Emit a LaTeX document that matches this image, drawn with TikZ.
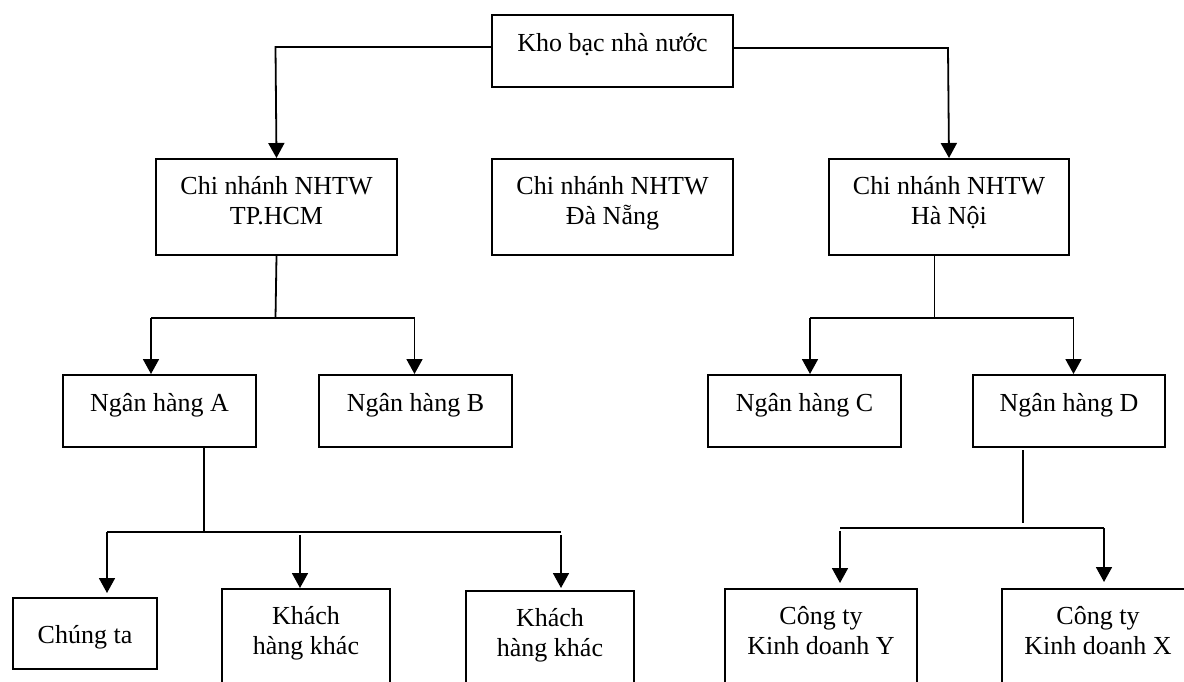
\documentclass[tikz,border=0pt]{standalone}
\usepackage{fontspec}
\setmainfont{Liberation Serif}
\usetikzlibrary{arrows.meta}
\newcommand\twolines[2]{\begin{tabular}[t]{@{}c@{}}#1\\#2\end{tabular}}
\begin{document}
\begin{tikzpicture}[x=1pt,y=-1pt,
  box/.style={draw, line width=2pt, inner sep=0pt, anchor=north west,
    font=\fontsize{26}{30}\selectfont},
  conn/.style={line width=1.8pt},
  arr/.style={conn, -{Triangle[length=15pt,width=16pt]}},
]
\useasboundingbox (0,0) rectangle (1184,681);
\clip (0,0) rectangle (1184,681);

% level 0
\node[box, minimum width=241pt, text height=36pt, text depth=36pt] (kb) at (491,14) {Kho bạc nhà nước};

% level 1: central bank branches
\node[box, minimum width=241pt, text height=35pt, text depth=61pt] (hcm) at (155,158) {\twolines{Chi nhánh NHTW}{TP.HCM}};
\node[box, minimum width=241pt, text height=35pt, text depth=61pt] (dn) at (491,158) {\twolines{Chi nhánh NHTW}{Đà Nẵng}};
\node[box, minimum width=240pt, text height=35pt, text depth=61pt] (hn) at (828,158) {\twolines{Chi nhánh NHTW}{Hà Nội}};

% level 2: banks
\node[box, minimum width=193pt, text height=36pt, text depth=36pt] (ba) at (62,374) {Ngân hàng A};
\node[box, minimum width=193pt, text height=36pt, text depth=36pt] (bb) at (318,374) {Ngân hàng B};
\node[box, minimum width=193pt, text height=36pt, text depth=36pt] (bc) at (707,374) {Ngân hàng C};
\node[box, minimum width=192pt, text height=36pt, text depth=36pt] (bd) at (972,374) {Ngân hàng D};

% level 3: customers
\node[box, minimum width=144pt, text height=45pt, text depth=26pt] (chung) at (12,597) {Chúng ta};
\node[box, minimum width=168pt, text height=35pt, text depth=110pt] (kh1) at (221,588) {\twolines{Khách}{hàng khác}};
\node[box, minimum width=168pt, text height=35pt, text depth=110pt] (kh2) at (465,590) {\twolines{Khách}{hàng khác}};
\node[box, minimum width=192pt, text height=35pt, text depth=110pt] (cy) at (724,588) {\twolines{Công ty}{Kinh doanh Y}};
\node[box, minimum width=192pt, text height=35pt, text depth=110pt] (cx) at (1001,588) {\twolines{Công ty}{Kinh doanh X}};

% bends and bus bars
\coordinate (kbL) at (275.5,47);
\coordinate (kbR) at (948,48);
\coordinate (hbM) at (275.5,318);
\coordinate (hbL) at (151,318);
\coordinate (hbR) at (414.5,318);
\coordinate (nbM) at (934.5,318);
\coordinate (nbL) at (810,318);
\coordinate (nbR) at (1073.5,318);
\coordinate (abM) at (203.6,532);
\coordinate (abL) at (107,532);
\coordinate (abR) at (561,532);
\coordinate (abK) at (300,535);
\coordinate (dbM) at (1023,528);
\coordinate (dbL) at (840,528);
\coordinate (dbR) at (1104,528);

% treasury to branches
\draw[arr] (kb.west |- kbL) -- (kbL) -- (hcm.north);
\draw[arr] (kb.east |- kbR) -- (kbR) -- (hn.north);

% TP.HCM branch to banks A, B
\draw[conn] (hcm.south) -- (hbM);
\draw[conn] (hbL) -- (hbR);
\draw[arr] (hbL) -- (hbL |- ba.north);
\draw[arr] (hbR) -- (hbR |- bb.north);

% Ha Noi branch to banks C, D
\draw[conn] (nbM |- hn.south) -- (nbM);
\draw[conn] (nbL) -- (nbR);
\draw[arr] (nbL) -- (nbL |- bc.north);
\draw[arr] (nbR) -- (nbR |- bd.north);

% bank A to its customers
\draw[conn] (abM |- ba.south) -- (abM);
\draw[conn] (abL) -- (abR);
\draw[arr, shorten >=4pt] (abL) -- (abL |- chung.north);
\draw[arr] (abK) -- (abK |- kh1.north);
\draw[arr, shorten >=2pt] ([yshift=-3pt]abR) -- (abR |- kh2.north);

% bank D to its companies
\draw[conn] ([yshift=-2pt]dbM |- bd.south) -- ([yshift=5pt]dbM);
\draw[conn] (dbL) -- (dbR);
\draw[arr, shorten >=5pt] ([yshift=-3pt]dbL) -- (dbL |- cy.north);
\draw[arr, shorten >=6pt] (dbR) -- (dbR |- cx.north);
\end{tikzpicture}
\end{document}
